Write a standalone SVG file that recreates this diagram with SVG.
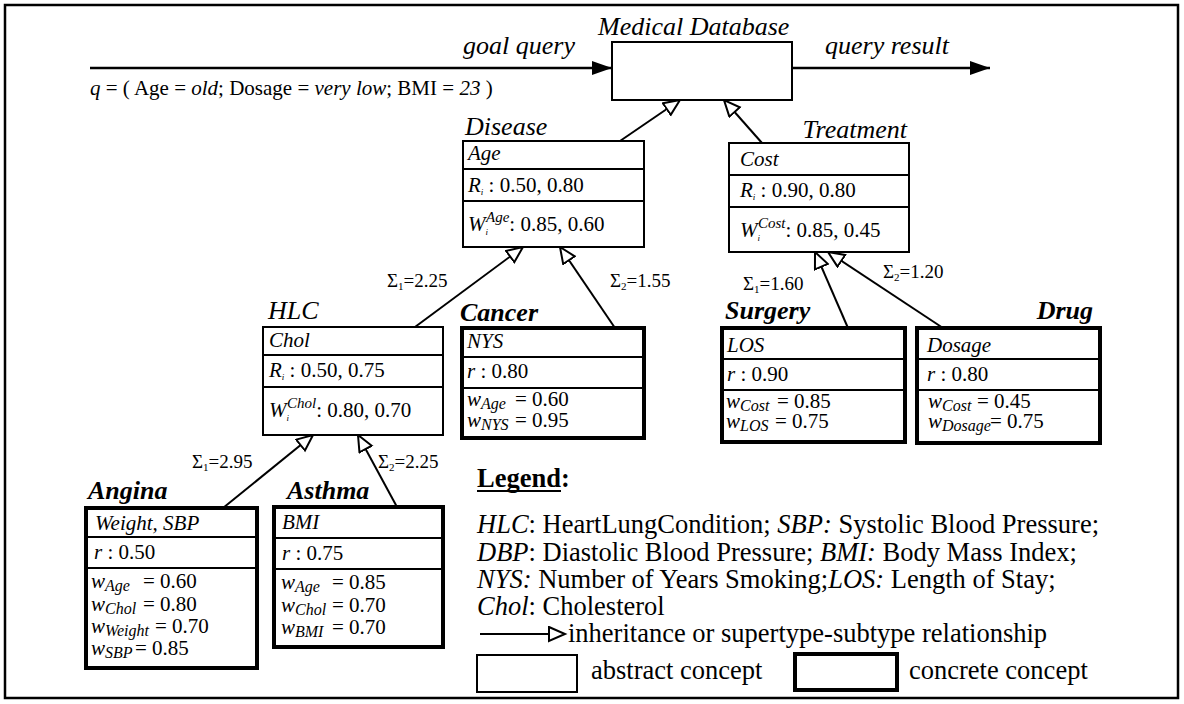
<svg xmlns="http://www.w3.org/2000/svg" width="1184" height="704" viewBox="0 0 1184 704">
<style>
.t{font-family:"Liberation Serif","Times New Roman",Times,serif;fill:#000}
.lbl{font-size:26px;font-style:italic}
.blbl{font-size:26px;font-style:italic;font-weight:bold}
.row{font-size:21px}
.lg{font-size:26.5px}
.sg{font-size:19px}
.i{font-style:italic}
.box{fill:#fff;stroke:#000;stroke-width:2}
.cbox{fill:#fff;stroke:#000;stroke-width:4}
.dv{stroke:#000;stroke-width:2}
.conn{stroke:#000;stroke-width:2;fill:none;marker-end:url(#hollow)}
.flow{stroke:#000;stroke-width:2.5;fill:none;marker-end:url(#solid)}
</style>
<defs>
<marker id="hollow" markerUnits="userSpaceOnUse" markerWidth="20" markerHeight="18" refX="17" refY="8" orient="auto"><path d="M1,1 L17,8 L1,15 Z" fill="#fff" stroke="#000" stroke-width="2"/></marker>
<marker id="solid" markerUnits="userSpaceOnUse" markerWidth="22" markerHeight="16" refX="20" refY="8" orient="auto"><path d="M0,1 L20,8 L0,15 Z" fill="#000"/></marker>
</defs>
<rect x="0" y="0" width="1184" height="704" fill="#fff"/>
<rect x="5" y="5" width="1173" height="693" fill="none" stroke="#000" stroke-width="2.5"/>

<g id="connectors">
<line class="flow" x1="90" y1="68" x2="612" y2="68"/>
<line class="flow" x1="792" y1="68" x2="990" y2="68"/>
<line class="conn" x1="620" y1="141" x2="680" y2="100"/>
<line class="conn" x1="762" y1="143" x2="724" y2="100"/>
<line class="conn" x1="415" y1="327" x2="523" y2="247"/>
<line class="conn" x1="615" y1="328" x2="560" y2="247"/>
<line class="conn" x1="848" y1="328" x2="815" y2="252"/>
<line class="conn" x1="943" y1="328" x2="828" y2="252"/>
<line class="conn" x1="223" y1="508" x2="313" y2="435"/>
<line class="conn" x1="397" y1="507" x2="358" y2="435"/>
</g>

<g id="flow-labels">
<text class="t lbl" x="463" y="54">goal query</text>
<text class="t lbl" x="825" y="54">query result</text>
<text class="t row" x="90" y="95"><tspan class="i">q</tspan> = ( Age = <tspan class="i">old</tspan>; Dosage = <tspan class="i">very low</tspan>; BMI = <tspan class="i">23</tspan> )</text>
</g>

<g id="sigma-labels">
<text class="t sg" x="387" y="287">Σ<tspan font-size="11" dy="3">1</tspan><tspan dy="-3">=2.25</tspan></text>
<text class="t sg" x="610" y="287">Σ<tspan font-size="11" dy="3">2</tspan><tspan dy="-3">=1.55</tspan></text>
<text class="t sg" x="743" y="290">Σ<tspan font-size="11" dy="3">1</tspan><tspan dy="-3">=1.60</tspan></text>
<text class="t sg" x="883" y="278">Σ<tspan font-size="11" dy="3">2</tspan><tspan dy="-3">=1.20</tspan></text>
<text class="t sg" x="192" y="468">Σ<tspan font-size="11" dy="3">1</tspan><tspan dy="-3">=2.95</tspan></text>
<text class="t sg" x="378" y="468">Σ<tspan font-size="11" dy="3">2</tspan><tspan dy="-3">=2.25</tspan></text>
</g>

<g id="medical-database">
<text class="t lbl" x="598" y="35">Medical Database</text>
<rect class="box" x="612" y="42" width="180" height="58"/>
</g>

<g id="disease">
<text class="t lbl" x="465" y="135">Disease</text>
<rect class="box" x="463" y="141" width="181" height="106"/>
<line class="dv" x1="463" y1="169" x2="644" y2="169"/>
<line class="dv" x1="463" y1="201" x2="644" y2="201"/>
<text class="t row i" x="468" y="160">Age</text>
<text class="t row" x="468" y="192"><tspan class="i">R</tspan><tspan class="i" font-size="9" dy="3">i</tspan><tspan dy="-3"> : 0.50, 0.80</tspan></text>
<text class="t row" x="468" y="231"><tspan class="i">W</tspan><tspan class="i" font-size="9" dy="4">i</tspan><tspan class="i" font-size="15" dx="-2" dy="-13">Age</tspan><tspan dy="9">: 0.85, 0.60</tspan></text>
</g>

<g id="treatment">
<text class="t lbl" x="907" y="138" text-anchor="end">Treatment</text>
<rect class="box" x="729" y="143" width="180" height="109"/>
<line class="dv" x1="729" y1="175" x2="909" y2="175"/>
<line class="dv" x1="729" y1="207" x2="909" y2="207"/>
<text class="t row i" x="740" y="166">Cost</text>
<text class="t row" x="740" y="197"><tspan class="i">R</tspan><tspan class="i" font-size="9" dy="3">i</tspan><tspan dy="-3"> : 0.90, 0.80</tspan></text>
<text class="t row" x="740" y="237"><tspan class="i">W</tspan><tspan class="i" font-size="9" dy="4">i</tspan><tspan class="i" font-size="15" dx="-2" dy="-13">Cost</tspan><tspan dy="9">: 0.85, 0.45</tspan></text>
</g>

<g id="hlc">
<text class="t lbl" x="268" y="319">HLC</text>
<rect class="box" x="263" y="327" width="180" height="108"/>
<line class="dv" x1="263" y1="355" x2="443" y2="355"/>
<line class="dv" x1="263" y1="387" x2="443" y2="387"/>
<text class="t row i" x="269" y="347">Chol</text>
<text class="t row" x="269" y="377"><tspan class="i">R</tspan><tspan class="i" font-size="9" dy="3">i</tspan><tspan dy="-3"> : 0.50, 0.75</tspan></text>
<text class="t row" x="269" y="417"><tspan class="i">W</tspan><tspan class="i" font-size="9" dy="4">i</tspan><tspan class="i" font-size="15" dx="-2" dy="-13">Chol</tspan><tspan dy="9">: 0.80, 0.70</tspan></text>
</g>

<g id="cancer">
<text class="t blbl" x="460" y="321">Cancer</text>
<rect class="cbox" x="462" y="328" width="182" height="110"/>
<line class="dv" x1="462" y1="357" x2="644" y2="357"/>
<line class="dv" x1="462" y1="388" x2="644" y2="388"/>
<text class="t row i" x="467" y="348">NYS</text>
<text class="t row" x="467" y="378"><tspan class="i">r</tspan> : 0.80</text>
<text class="t row" x="467" y="406"><tspan class="i">w</tspan><tspan class="i" font-size="16" dy="3">Age</tspan><tspan x="515" dy="-3">= 0.60</tspan></text>
<text class="t row" x="467" y="427"><tspan class="i">w</tspan><tspan class="i" font-size="16" dy="3">NYS</tspan><tspan x="515" dy="-3">= 0.95</tspan></text>
</g>

<g id="surgery">
<text class="t blbl" x="725" y="319">Surgery</text>
<rect class="cbox" x="722" y="328" width="183" height="114"/>
<line class="dv" x1="722" y1="359" x2="905" y2="359"/>
<line class="dv" x1="722" y1="390" x2="905" y2="390"/>
<text class="t row i" x="727" y="352">LOS</text>
<text class="t row" x="727" y="381"><tspan class="i">r</tspan> : 0.90</text>
<text class="t row" x="726" y="408"><tspan class="i">w</tspan><tspan class="i" font-size="16" dy="3">Cost</tspan><tspan x="777" dy="-3">= 0.85</tspan></text>
<text class="t row" x="726" y="428"><tspan class="i">w</tspan><tspan class="i" font-size="16" dy="3">LOS</tspan><tspan x="775" dy="-3">= 0.75</tspan></text>
</g>

<g id="drug">
<text class="t blbl" x="1093" y="319" text-anchor="end">Drug</text>
<rect class="cbox" x="917" y="328" width="183" height="115"/>
<line class="dv" x1="917" y1="359" x2="1100" y2="359"/>
<line class="dv" x1="917" y1="390" x2="1100" y2="390"/>
<text class="t row i" x="927" y="352">Dosage</text>
<text class="t row" x="927" y="381"><tspan class="i">r</tspan> : 0.80</text>
<text class="t row" x="928" y="408"><tspan class="i">w</tspan><tspan class="i" font-size="16" dy="3">Cost</tspan><tspan x="977" dy="-3">= 0.45</tspan></text>
<text class="t row" x="928" y="428"><tspan class="i">w</tspan><tspan class="i" font-size="16" dy="3">Dosage</tspan><tspan x="990" dy="-3">= 0.75</tspan></text>
</g>

<g id="angina">
<text class="t blbl" x="88" y="499">Angina</text>
<rect class="cbox" x="86" y="508" width="171" height="160"/>
<line class="dv" x1="86" y1="537" x2="257" y2="537"/>
<line class="dv" x1="86" y1="568" x2="257" y2="568"/>
<text class="t row i" x="95" y="530">Weight, SBP</text>
<text class="t row" x="94" y="559"><tspan class="i">r</tspan> : 0.50</text>
<text class="t row" x="91" y="588"><tspan class="i">w</tspan><tspan class="i" font-size="16" dy="3">Age</tspan><tspan x="143" dy="-3">= 0.60</tspan></text>
<text class="t row" x="91" y="611"><tspan class="i">w</tspan><tspan class="i" font-size="16" dy="3">Chol</tspan><tspan x="143" dy="-3">= 0.80</tspan></text>
<text class="t row" x="91" y="633"><tspan class="i">w</tspan><tspan class="i" font-size="16" dy="3">Weight</tspan><tspan x="155" dy="-3">= 0.70</tspan></text>
<text class="t row" x="91" y="655"><tspan class="i">w</tspan><tspan class="i" font-size="16" dy="3">SBP</tspan><tspan x="135" dy="-3">= 0.85</tspan></text>
</g>

<g id="asthma">
<text class="t blbl" x="287" y="499">Asthma</text>
<rect class="cbox" x="274" y="507" width="169" height="140"/>
<line class="dv" x1="274" y1="538" x2="443" y2="538"/>
<line class="dv" x1="274" y1="569" x2="443" y2="569"/>
<text class="t row i" x="282" y="529">BMI</text>
<text class="t row" x="282" y="560"><tspan class="i">r</tspan> : 0.75</text>
<text class="t row" x="281" y="589"><tspan class="i">w</tspan><tspan class="i" font-size="16" dy="3">Age</tspan><tspan x="332" dy="-3">= 0.85</tspan></text>
<text class="t row" x="281" y="612"><tspan class="i">w</tspan><tspan class="i" font-size="16" dy="3">Chol</tspan><tspan x="332" dy="-3">= 0.70</tspan></text>
<text class="t row" x="281" y="634"><tspan class="i">w</tspan><tspan class="i" font-size="16" dy="3">BMI</tspan><tspan x="332" dy="-3">= 0.70</tspan></text>
</g>

<g id="legend">
<text class="t lg" x="477" y="487" font-weight="bold">Legend:</text>
<line x1="477" y1="491" x2="561" y2="491" stroke="#000" stroke-width="2"/>
<text class="t lg" x="477" y="533"><tspan class="i">HLC</tspan>: HeartLungCondition; <tspan class="i">SBP:</tspan> Systolic Blood Pressure;</text>
<text class="t lg" x="477" y="561"><tspan class="i">DBP</tspan>: Diastolic Blood Pressure; <tspan class="i">BMI:</tspan> Body Mass Index;</text>
<text class="t lg" x="477" y="588"><tspan class="i">NYS:</tspan> Number of Years Smoking;<tspan class="i">LOS:</tspan> Length of Stay;</text>
<text class="t lg" x="477" y="615"><tspan class="i">Chol</tspan>: Cholesterol</text>
<line class="conn" x1="480" y1="634" x2="565" y2="634"/>
<text class="t lg" x="568" y="642">inheritance or supertype-subtype relationship</text>
<rect class="box" x="477" y="655" width="100" height="37"/>
<text class="t lg" x="591" y="679">abstract concept</text>
<rect class="cbox" x="795" y="654" width="102" height="36"/>
<text class="t lg" x="909" y="679">concrete concept</text>
</g>
</svg>
